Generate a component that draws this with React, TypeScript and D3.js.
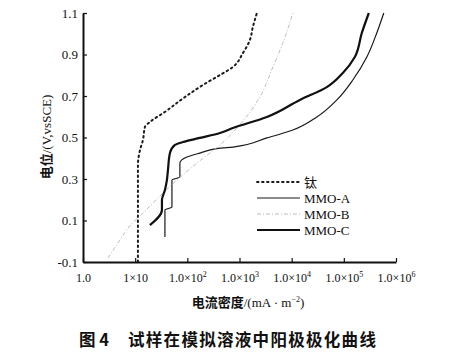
import React, { useEffect, useRef } from 'react';
import * as d3 from 'd3';

// current density (mA/m2) and potential (V vs SCE)
const tiCurrent = [11.3, 11.3, 12.4, 14.1, 15.4, 19.2, 37, 90, 199, 422, 748, 1162, 1583, 1806, 2155];
const tiPotential = [-0.1, 0.368, 0.44, 0.488, 0.551, 0.575, 0.623, 0.695, 0.753, 0.801, 0.84, 0.907, 0.97, 1.033, 1.1];

const mmoACurrent = [37.2, 37.2, 50.7, 50.7, 72, 72, 98, 174, 422, 748, 3350, 10540, 30400, 73400, 148600, 276000, 428500, 583000];
const mmoAPotential = [0.021, 0.151, 0.165, 0.295, 0.31, 0.377, 0.406, 0.425, 0.449, 0.454, 0.498, 0.536, 0.599, 0.681, 0.777, 0.888, 1.004, 1.1];

const mmoBCurrent = [3.0, 5.1, 7.9, 14.1, 29.9, 63, 153, 422, 931, 2460, 4370, 6780, 10540];
const mmoBPotential = [-0.081, 0.006, 0.074, 0.136, 0.218, 0.295, 0.377, 0.464, 0.551, 0.695, 0.84, 0.955, 1.1];

const mmoCCurrent = [19.2, 32.6, 32.6, 37.2, 40.6, 42.5, 46.4, 57.9, 82.4, 174, 422, 748, 3350, 14360, 47200, 95700, 162500, 221400, 301300];
const mmoCPotential = [0.078, 0.151, 0.199, 0.247, 0.295, 0.343, 0.425, 0.464, 0.478, 0.498, 0.522, 0.546, 0.599, 0.681, 0.743, 0.811, 0.888, 1.004, 1.1];

const xTicks = [1, 10, 100, 1000, 1e4, 1e5, 1e6];
const xTickBase = ['1.0', '1×10', '1.0×10', '1.0×10', '1.0×10', '1.0×10', '1.0×10'];
const xTickExp = ['', '', '2', '3', '4', '5', '6'];
const yTicks = [-0.1, 0.1, 0.3, 0.5, 0.7, 0.9, 1.1];

const seriesNames = ['钛', 'MMO-A', 'MMO-B', 'MMO-C'];

const serif = '"Liberation Serif", "DejaVu Serif", serif';
const cjk = '"Noto Sans CJK SC", sans-serif';

const App = () => {
  const svgRef = useRef<SVGSVGElement>(null);

  useEffect(() => {
    const svg = d3.select(svgRef.current);
    svg.selectAll('*').remove();

    const x = d3.scaleLog().domain([1, 1e6]).range([83, 396]);
    const y = d3.scaleLinear().domain([-0.1, 1.1]).range([262, 13]);

    // line styles per series
    const styles = [
      { stroke: '#1a1a1a', width: 2, dash: '1.6,3.4', cap: 'round' },
      { stroke: '#1a1a1a', width: 1.2, dash: null, cap: 'butt' },
      { stroke: '#b5b5b5', width: 0.9, dash: '4,2,1,2', cap: 'butt' },
      { stroke: '#111', width: 2.2, dash: null, cap: 'butt' },
    ];

    const series = [
      [tiCurrent, tiPotential],
      [mmoACurrent, mmoAPotential],
      [mmoBCurrent, mmoBPotential],
      [mmoCCurrent, mmoCPotential],
    ];

    // potential rises monotonically along every curve, so smooth along y
    const line = d3.line<[number, number]>()
      .x(d => x(d[0]))
      .y(d => y(d[1]))
      .curve(d3.curveMonotoneY);

    series.forEach(([cur, pot], i) => {
      const pts = cur.map((c, j) => [c, pot[j]] as [number, number]);
      const st = styles[i];
      svg.append('path')
        .datum(pts)
        .attr('d', line)
        .attr('fill', 'none')
        .attr('stroke', st.stroke)
        .attr('stroke-width', st.width)
        .attr('stroke-linecap', st.cap)
        .attr('stroke-linejoin', 'round')
        .attr('stroke-dasharray', st.dash);
    });

    // axes, ticks pointing inward
    const yAxis = svg.append('g')
      .attr('transform', 'translate(83,0)')
      .call(d3.axisLeft(y).tickValues(yTicks).tickSize(-4).tickSizeOuter(0)
        .tickPadding(5).tickFormat(d => (+d).toFixed(1)));
    yAxis.select('.domain').attr('stroke', '#111').attr('stroke-width', 2);
    yAxis.selectAll('.tick line').attr('stroke', '#111').attr('stroke-width', 1.2);
    yAxis.selectAll('.tick text')
      .attr('font-family', serif).attr('font-size', 13).attr('fill', '#111');

    const xAxis = svg.append('g')
      .attr('transform', 'translate(0,262)')
      .call(d3.axisBottom(x).tickValues(xTicks).tickSize(-4).tickSizeOuter(0));
    xAxis.select('.domain').attr('stroke', '#111').attr('stroke-width', 2);
    xAxis.selectAll('.tick line').attr('stroke', '#111').attr('stroke-width', 1.2);
    xAxis.selectAll<SVGTextElement, number>('.tick text').each(function (_d, i) {
      const t = d3.select(this);
      t.text(null)
        .attr('y', 20).attr('dy', 0)
        .attr('font-family', serif).attr('font-size', 12).attr('fill', '#111');
      t.append('tspan').text(xTickBase[i]);
      if (xTickExp[i]) {
        t.append('tspan').attr('dy', -5).attr('font-size', 8).text(xTickExp[i]);
      }
    });

    // y axis title
    const yTitle = svg.append('text')
      .attr('transform', 'translate(51,137) rotate(-90)')
      .attr('text-anchor', 'middle')
      .attr('font-size', 13)
      .attr('fill', '#111');
    yTitle.append('tspan').attr('font-family', cjk).attr('font-weight', 700).text('电位');
    yTitle.append('tspan').attr('font-family', serif).text('/(V,vsSCE)');

    // x axis title
    const xTitle = svg.append('text')
      .attr('x', 248).attr('y', 307)
      .attr('text-anchor', 'middle')
      .attr('font-size', 13)
      .attr('fill', '#111');
    xTitle.append('tspan').attr('font-family', cjk).attr('font-weight', 700).text('电流密度');
    xTitle.append('tspan').attr('font-family', serif).text('/(mA · m');
    xTitle.append('tspan').attr('font-family', serif).attr('font-size', 8).attr('dy', -5).text('−2');
    xTitle.append('tspan').attr('font-family', serif).attr('dy', 5).text(')');

    // legend
    const legend = svg.append('g').attr('transform', 'translate(257,182)');
    seriesNames.forEach((name, i) => {
      const st = styles[i];
      const row = legend.append('g').attr('transform', `translate(0,${i * 16})`);
      row.append('line')
        .attr('x1', 0).attr('x2', 43).attr('y1', 0).attr('y2', 0)
        .attr('stroke', st.stroke)
        .attr('stroke-width', Math.min(st.width, 1.8))
        .attr('stroke-linecap', st.cap)
        .attr('stroke-dasharray', st.dash);
      row.append('text')
        .attr('x', 47).attr('y', 4.5)
        .attr('font-family', i === 0 ? cjk : serif)
        .attr('font-size', 13)
        .attr('fill', '#111')
        .text(name);
    });

    // caption
    svg.append('text')
      .attr('x', 79).attr('y', 346)
      .attr('font-family', cjk).attr('font-weight', 700).attr('font-size', 16.5)
      .attr('fill', '#111')
      .text('图 4');
    svg.append('text')
      .attr('x', 128).attr('y', 346)
      .attr('font-family', cjk).attr('font-weight', 700).attr('font-size', 16.5)
      .attr('letter-spacing', 1.3)
      .attr('fill', '#111')
      .text('试样在模拟溶液中阳极极化曲线');
  }, []);

  return (
    <svg
      ref={svgRef}
      width={450}
      height={362}
      style={{ position: 'absolute', left: 0, top: 0, background: '#fff' }}
    />
  );
};

export default App;
